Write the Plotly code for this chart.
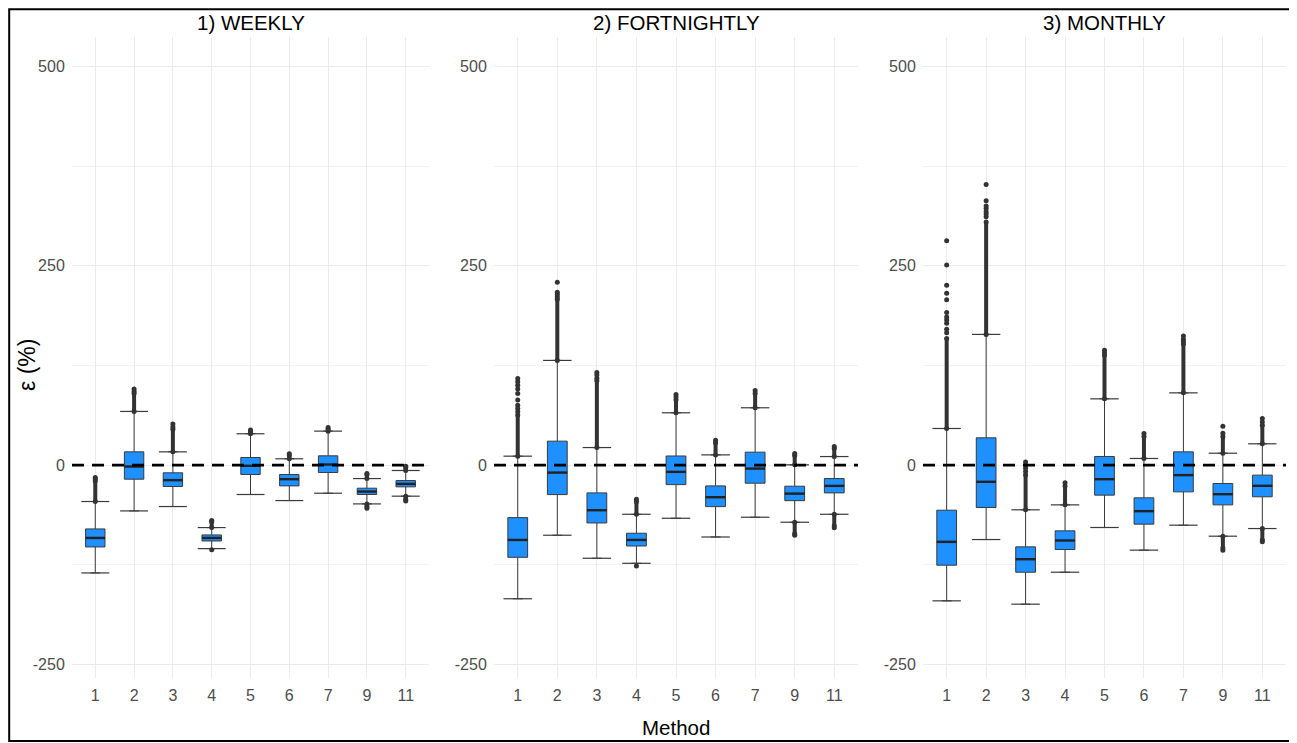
import plotly.graph_objects as go

# ---------------- data ----------------
methods = ["1", "2", "3", "4", "5", "6", "7", "9", "11"]
panel_titles = ["1) WEEKLY", "2) FORTNIGHTLY", "3) MONTHLY"]

# 1) WEEKLY
weekly_q1 = [-102.6, -17.6, -26.8, -95.1, -11.7, -26.0, -9.2, -36.8, -27.2]
weekly_median = [-91.3, -1.7, -18.8, -91.3, -0.8, -17.6, 0.8, -33.1, -23.5]
weekly_q3 = [-80.0, 16.7, -9.6, -87.5, 9.6, -11.7, 11.7, -28.9, -19.3]
weekly_lower = [-135.2, -57.4, -51.9, -104.7, -36.8, -44.4, -35.2, -48.6, -38.9]
weekly_upper = [-45.6, 67.4, 16.7, -78.3, 39.4, 8.0, 42.7, -16.8, -6.7]
weekly_dense_hi = [-20, 90, 45, -71, 42, 12, 45, -12, -3]
weekly_dense_lo = [None, None, None, None, None, None, None, -52, -43]
weekly_out_method = ["1", "1", "2", "2", "3", "3", "4", "4", "5", "6", "7", "9", "9", "11", "11"]
weekly_out_value = [-17.5, -15.5, 92.5, 95.5, 48, 51.5, -69.5, -106, 44, 14.2, 47.3, -10.5, -54, -1.3, -44.8]

# 2) FORTNIGHTLY
fort_q1 = [-115.6, -36.9, -72.5, -101.4, -24.4, -52.0, -22.6, -44.5, -34.8]
fort_median = [-93.8, -9.3, -56.5, -93.8, -8.4, -40.2, -4.3, -35.7, -26.0]
fort_q3 = [-65.8, 30.1, -34.8, -85.4, 11.5, -26.0, 16.3, -26.4, -16.8]
fort_lower = [-167.6, -87.9, -116.8, -123.1, -66.6, -90.1, -65.3, -71.6, -61.6]
fort_upper = [11.3, 131.4, 22.1, -61.6, 65.7, 12.9, 72.0, 0.4, 10.8]
fort_dense_hi = [63, 208, 106, -46, 82, 28, 90, 12, 21]
fort_dense_lo = [None, None, None, None, None, None, None, -86, -76]
fort_out_method = ["1"] * 9 + ["2"] * 4 + ["3"] * 3 + ["4", "4", "5", "5", "6", "7", "9", "9", "11", "11"]
fort_out_value = [66.9, 71.1, 75.3, 81.6, 90.0, 95.4, 100.4, 104.6, 108.8,
                  211, 214, 217, 229.4,
                  109, 113, 116.3,
                  -42.7, -126.5, 85.5, 88.7, 31.4, 93.7, 14.6, -87.9, 23.4, -78.4]

# 3) MONTHLY
month_q1 = [-125.5, -53.1, -134.3, -105.8, -37.6, -74.0, -33.5, -49.8, -39.7]
month_median = [-96.2, -20.9, -118.0, -94.5, -17.6, -57.7, -12.5, -36.4, -25.9]
month_q3 = [-56.5, 34.3, -102.5, -82.4, 10.9, -41.0, 16.7, -23.0, -12.5]
month_lower = [-170.2, -93.3, -174.4, -134.3, -78.2, -106.6, -75.3, -89.1, -79.5]
month_upper = [46.0, 164.0, -56.0, -49.8, 83.2, 8.4, 90.7, 15.0, 26.8]
month_dense_hi = [159, 305, -12, -26, 138, 36, 152, 36, 50]
month_dense_lo = [None, None, None, None, None, None, None, -104, -94]
month_out_method = ["1"] * 11 + ["2"] * 7 + ["3"] * 4 + ["4", "5", "5", "6", "7", "7", "7", "9", "9", "9", "11", "11", "11"]
month_out_value = [166, 170.6, 178, 182, 186, 191.6, 207.4, 215.8, 225.8, 251, 281.4,
                   311.5, 315, 318, 322, 325, 331.6, 352.2,
                   -8, -4, 0, 4,
                   -22.2, 141, 144.3, 39.7, 155, 158, 161.9, 40, 48.9, -106.6, 54, 58.6, -96.2]

y_ticks = [-250, 0, 250, 500]
y_tick_labels = ["-250", "0", "250", "500"]
ref_line = 0

panels = [
    (weekly_q1, weekly_median, weekly_q3, weekly_lower, weekly_upper,
     weekly_dense_hi, weekly_dense_lo, weekly_out_method, weekly_out_value),
    (fort_q1, fort_median, fort_q3, fort_lower, fort_upper,
     fort_dense_hi, fort_dense_lo, fort_out_method, fort_out_value),
    (month_q1, month_median, month_q3, month_lower, month_upper,
     month_dense_hi, month_dense_lo, month_out_method, month_out_value),
]

# ---------------- styling / layout ----------------
OFF = 8                      # page body margin of the browser
W, H = 1297 - OFF, 743 - OFF  # figure size so that it fits the window


def px_x(px):
    return (px - OFF) / W


def px_y(py):
    return 1 - (py - OFF) / H


FILL = "#1E90FF"
EDGE = "#3a3a3a"
DOT = "#333333"
GRID = "#EBEBEB"
FONT = "Liberation Sans, Arial, sans-serif"
BOX_W = 0.5
CAP_W = 0.72

x_px = [(72, 429), (494, 858), (923, 1286)]
y_top_px, y_bot_px = 36.7, 678
y_range = [-267, 537.5]

pos = {m: i for i, m in enumerate(methods)}
fig = go.Figure()

for k, (q1, med, q3, lo, hi, dhi, dlo, om, ov) in enumerate(panels):
    xa = "x" if k == 0 else f"x{k+1}"
    ya = "y" if k == 0 else f"y{k+1}"
    xs = [pos[m] for m in methods]

    fig.add_trace(go.Box(
        x=xs, q1=q1, median=med, q3=q3, lowerfence=lo, upperfence=hi,
        width=BOX_W, fillcolor=FILL, line=dict(color=EDGE, width=1),
        boxpoints=False, showlegend=False, xaxis=xa, yaxis=ya, hoverinfo="skip"))

    # whisker caps
    cx, cy = [], []
    for i, m in enumerate(methods):
        p = pos[m]
        for v in (lo[i], hi[i]):
            cx += [p - CAP_W / 2, p + CAP_W / 2, None]
            cy += [v, v, None]
    fig.add_trace(go.Scatter(x=cx, y=cy, mode="lines", line=dict(color=EDGE, width=1.2),
                             showlegend=False, xaxis=xa, yaxis=ya, hoverinfo="skip"))

    # medians
    mx, my = [], []
    for i, m in enumerate(methods):
        p = pos[m]
        mx += [p - BOX_W / 2, p + BOX_W / 2, None]
        my += [med[i], med[i], None]
    fig.add_trace(go.Scatter(x=mx, y=my, mode="lines", line=dict(color="#222222", width=2.4),
                             showlegend=False, xaxis=xa, yaxis=ya, hoverinfo="skip"))

    # dense outlier runs
    dx, dy = [], []
    for i, m in enumerate(methods):
        p = pos[m]
        if dhi[i] is not None:
            dx += [p, p, None]
            dy += [hi[i], dhi[i], None]
        if dlo[i] is not None:
            dx += [p, p, None]
            dy += [lo[i], dlo[i], None]
    fig.add_trace(go.Scatter(x=dx, y=dy, mode="lines+markers",
                             line=dict(color=DOT, width=4), marker=dict(color=DOT, size=5),
                             showlegend=False, xaxis=xa, yaxis=ya, hoverinfo="skip"))

    # individual outliers
    fig.add_trace(go.Scatter(x=[pos[m] for m in om], y=ov, mode="markers",
                             marker=dict(color=DOT, size=5),
                             showlegend=False, xaxis=xa, yaxis=ya, hoverinfo="skip"))

    x0, x1 = x_px[k]
    xkey = "xaxis" if k == 0 else f"xaxis{k+1}"
    ykey = "yaxis" if k == 0 else f"yaxis{k+1}"
    fig.update_layout(**{
        xkey: dict(domain=[px_x(x0), px_x(x1)], anchor=ya, range=[-0.6, len(methods) - 0.4],
                   tickvals=list(range(len(methods))), ticktext=methods,
                   showgrid=True, gridcolor=GRID, gridwidth=1, zeroline=False,
                   showline=False, ticks="outside", ticklen=3, tickcolor="rgba(0,0,0,0)",
                   tickfont=dict(family=FONT, size=16, color="#4D4D4D")),
        ykey: dict(domain=[px_y(y_bot_px), px_y(y_top_px)], anchor=xa, range=y_range,
                   tickvals=y_ticks, ticktext=y_tick_labels,
                   showgrid=True, gridcolor=GRID, gridwidth=1,
                   minor=dict(dtick=125, tick0=0, showgrid=True, gridcolor="#F2F2F2", gridwidth=0.6),
                   zeroline=False, showline=False, ticks="outside", ticklen=3,
                   tickcolor="rgba(0,0,0,0)",
                   tickfont=dict(family=FONT, size=16, color="#4D4D4D")),
    })

    # dashed reference line at 0
    fig.add_shape(type="line", xref=f"{xa} domain", yref=ya, x0=0, x1=1,
                  y0=ref_line, y1=ref_line, line=dict(color="black", width=2.6, dash="12px,8px"))

    # panel title
    fig.add_annotation(text=panel_titles[k], xref="paper", yref="paper",
                       x=px_x((x0 + x1) / 2), y=px_y(22), showarrow=False,
                       xanchor="center", yanchor="middle",
                       font=dict(family=FONT, size=20.5, color="black"))

fig.add_annotation(text="Method", xref="paper", yref="paper", x=px_x(676), y=px_y(727),
                   showarrow=False, xanchor="center", yanchor="middle",
                   font=dict(family=FONT, size=20.5, color="black"))
fig.add_annotation(text="ε (%)", xref="paper", yref="paper", x=px_x(27), y=px_y(365),
                   showarrow=False, textangle=-90, xanchor="center", yanchor="middle",
                   font=dict(family=FONT, size=23, color="black"))

# outer frame (kept inside the drawable area of the page)
fig.add_shape(type="rect", xref="paper", yref="paper", x0=px_x(9.2), x1=px_x(1292),
              y0=px_y(741), y1=px_y(9.2), line=dict(color="black", width=2))

fig.update_layout(width=W, height=H, margin=dict(l=0, r=0, t=0, b=0),
                  paper_bgcolor="white", plot_bgcolor="white", showlegend=False)

fig.write_html("out.html")
